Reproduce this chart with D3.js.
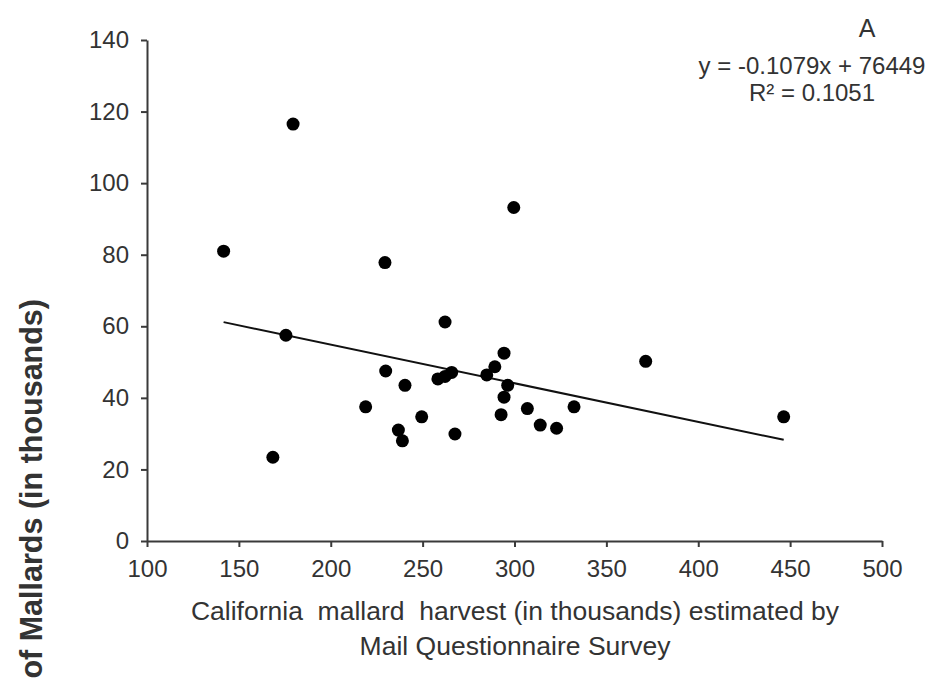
<!DOCTYPE html>
<html><head><meta charset="utf-8">
<script src="https://cdn.jsdelivr.net/npm/d3@7"></script>
<style>
html,body{margin:0;padding:0;background:#fff;}
svg text{font-family:"Liberation Sans",Arial,sans-serif;fill:#333;}
</style></head>
<body>
<svg id="chart" width="942" height="683"></svg>
<script>
// Data: California mallard harvest (thousands) vs mallards (thousands)
const harvest = [141.7,179.5,175.6,168.5,229.5,229.9,219.0,240.4,249.5,236.8,239.0,267.6,262.2,258.3,262.2,265.8,284.9,289.3,294.3,296.3,294.3,292.7,307.0,314.0,322.9,332.4,299.6,371.4,446.5];
const mallards = [81.0,116.5,57.5,23.4,77.8,47.5,37.5,43.5,34.7,31.0,28.0,29.9,61.2,45.3,46.0,47.1,46.4,48.7,52.5,43.5,40.2,35.3,37.0,32.4,31.5,37.5,93.2,50.2,34.7];
const xTicks = [100,150,200,250,300,350,400,450,500];
const yTicks = [0,20,40,60,80,100,120,140];
const slope = -0.1079, intercept = 76.449; // in thousands
const eqText = "y = -0.1079x + 76449";
const r2Text = "R\u00B2 = 0.1051";
const panelLabel = "A";
const xLabel1 = "California  mallard  harvest (in thousands) estimated by";
const xLabel2 = "Mail Questionnaire Survey";
const yLabel = "of Mallards (in thousands)";

const svg = d3.select("#chart");
const x = d3.scaleLinear().domain([100,500]).range([147,882]);
const y = d3.scaleLinear().domain([0,140]).range([541,40]);
const axisColor = "#3a3a3a";

const gx = svg.append("g").attr("transform","translate(0,541)")
  .call(d3.axisBottom(x).tickValues(xTicks).tickSize(6).tickPadding(13).tickSizeOuter(0));
const gy = svg.append("g").attr("transform","translate(147,0)")
  .call(d3.axisLeft(y).tickValues(yTicks).tickSize(6).tickPadding(12).tickSizeOuter(0));
[gx,gy].forEach(g=>{
  g.select(".domain").attr("stroke",axisColor).attr("stroke-width",2);
  g.selectAll(".tick line").attr("stroke",axisColor).attr("stroke-width",2);
  g.selectAll(".tick text").attr("font-size",24).attr("fill","#333")
   .attr("font-family","'Liberation Sans',Arial,sans-serif");
});

// trend line
const xmin = d3.min(harvest), xmax = d3.max(harvest);
svg.append("line")
  .attr("x1",x(xmin)).attr("y1",y(slope*xmin+intercept))
  .attr("x2",x(xmax)).attr("y2",y(slope*xmax+intercept))
  .attr("stroke","#111").attr("stroke-width",2);

// points
svg.append("g").selectAll("circle").data(harvest.map((h,i)=>[h,mallards[i]]))
  .join("circle").attr("cx",d=>x(d[0])).attr("cy",d=>y(d[1])).attr("r",6.5).attr("fill","#000");

// annotations
svg.append("text").attr("x",867).attr("y",37).attr("text-anchor","middle").attr("font-size",25).text(panelLabel);
svg.append("text").attr("x",812).attr("y",74).attr("text-anchor","middle").attr("font-size",24).text(eqText);
svg.append("text").attr("x",812).attr("y",101).attr("text-anchor","middle").attr("font-size",24).text(r2Text);

// axis labels
svg.append("text").attr("x",515).attr("y",620).attr("text-anchor","middle").attr("font-size",26.5)
  .style("white-space","pre").text(xLabel1);
svg.append("text").attr("x",515).attr("y",655).attr("text-anchor","middle").attr("font-size",26.5).text(xLabel2);
svg.append("text").attr("transform","translate(42,299) rotate(-90)").attr("text-anchor","end")
  .attr("font-size",30.5).attr("font-weight","bold").attr("fill","#333").text(yLabel);
</script>
</body></html>
